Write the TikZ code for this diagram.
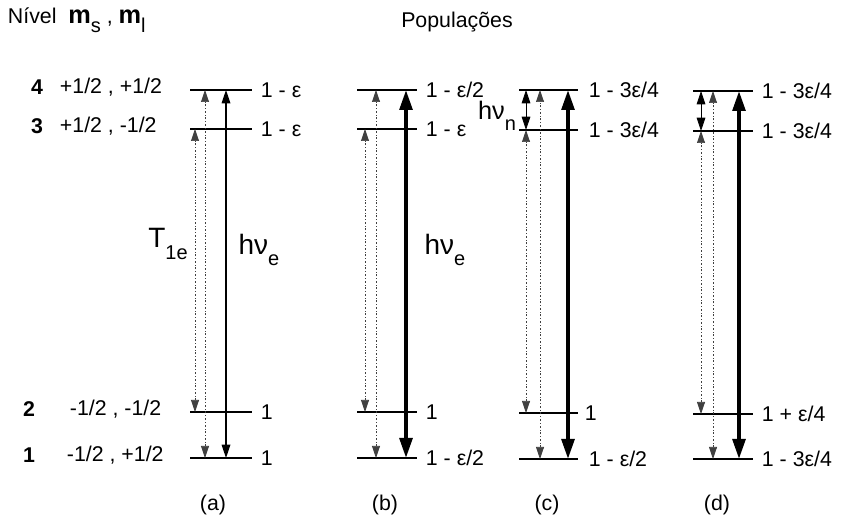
\documentclass[tikz,border=0pt]{standalone}
\usepackage{fontspec}
\setmainfont{Liberation Sans}
\usetikzlibrary{arrows.meta}

\newcommand{\sbs}[1]{\raisebox{-0.8ex}{\fontsize{15}{15}\selectfont #1}}

\tikzset{every picture/.style={line width=0.75pt}}
\tikzset{
  lvl/.style={line width=0.9pt},
  relax/.style={line width=0.5pt, black!75, dash pattern=on 1.5pt off 1.5pt on 0.4pt off 1.5pt,
    {Triangle[length=9pt,width=6pt]}-{Triangle[length=9pt,width=6pt]}},
  pump/.style={line width=0.9pt, {Triangle[length=10pt,width=6.5pt]}-{Triangle[length=10pt,width=6.5pt]}},
  bigpump/.style={line width=2.8pt, {Triangle[length=15pt,width=9.5pt]}-{Triangle[length=15pt,width=9.5pt]}},
  txt/.style={font=\fontsize{16}{18}\selectfont},
  num/.style={font=\fontsize{16}{18}\selectfont\bfseries},
  pop/.style={txt, anchor=west}
}

\begin{document}
\begin{tikzpicture}[x=0.75pt,y=0.75pt,yscale=-1]
\path (0,0) rectangle (842,530); %set diagram size

% level ends, panel (a)
\coordinate (a4) at (190,90);  \coordinate (a4e) at (252,90);
\coordinate (a3) at (190,129); \coordinate (a3e) at (252,129);
\coordinate (a2) at (190,412); \coordinate (a2e) at (252,412);
\coordinate (a1) at (190,458); \coordinate (a1e) at (252,458);
% level ends, panel (b)
\coordinate (b4) at (357,90);  \coordinate (b4e) at (417,90);
\coordinate (b3) at (357,129); \coordinate (b3e) at (417,129);
\coordinate (b2) at (357,412); \coordinate (b2e) at (417,412);
\coordinate (b1) at (357,458); \coordinate (b1e) at (417,458);
% level ends, panel (c)
\coordinate (c4) at (519,90);  \coordinate (c4e) at (578,90);
\coordinate (c3) at (519,130); \coordinate (c3e) at (578,130);
\coordinate (c2) at (519,413); \coordinate (c2e) at (578,413);
\coordinate (c1) at (519,459); \coordinate (c1e) at (578,459);
% level ends, panel (d)
\coordinate (d4) at (693,91);  \coordinate (d4e) at (753,91);
\coordinate (d3) at (693,131); \coordinate (d3e) at (753,131);
\coordinate (d2) at (693,414); \coordinate (d2e) at (753,414);
\coordinate (d1) at (693,459); \coordinate (d1e) at (753,459);

%Levels
\draw [lvl] (a4) -- (a4e) (a3) -- (a3e) (a2) -- (a2e) (a1) -- (a1e) ;
\draw [lvl] (b4) -- (b4e) (b3) -- (b3e) (b2) -- (b2e) (b1) -- (b1e) ;
\draw [lvl] (c4) -- (c4e) (c3) -- (c3e) (c2) -- (c2e) (c1) -- (c1e) ;
\draw [lvl] (d4) -- (d4e) (d3) -- (d3e) (d2) -- (d2e) (d1) -- (d1e) ;

%Arrows (a)
\draw [relax] (195,0 |- a2) -- (195,0 |- a3) ;
\draw [relax] (205,0 |- a1) -- (205,0 |- a4) ;
\draw [pump]  (226,0 |- a1) -- (226,0 |- a4) ;
%Arrows (b)
\draw [relax]   (365,0 |- b2) -- (365,0 |- b3) ;
\draw [relax]   (376,0 |- b1) -- (376,0 |- b4) ;
\draw [bigpump] (406,0 |- b1) -- (406,0 |- b4) ;
%Arrows (c)
\draw [relax]   (526,0 |- c2) -- (526,0 |- c3) ;
\draw [pump, line width=0.6pt] (526,0 |- c3) -- (526,0 |- c4) ;
\draw [relax]   (540,0 |- c1) -- (540,0 |- c4) ;
\draw [bigpump] (568,0 |- c1) -- (568,0 |- c4) ;
%Arrows (d)
\draw [relax]   (701,0 |- d2) -- (701,0 |- d3) ;
\draw [pump, line width=0.6pt] (701,0 |- d3) -- (701,0 |- d4) ;
\draw [relax]   (713,0 |- d1) -- (713,0 |- d4) ;
\draw [bigpump] (739,0 |- d1) -- (739,0 |- d4) ;

% Text Node
\node [txt, anchor=west] (nivel) at (3,20) {Nível\ \ {\fontsize{19}{20}\selectfont\bfseries m}\sbs{s} , {\fontsize{19}{20}\selectfont\bfseries m}\sbs{l}};
% Text Node
\node [txt] (populacoes) at (457,22) {Populações};

% Text Node
\node [num] (n4) at (37,87) {4};
\node [txt, anchor=west] (q4) at (55,87) {+1/2 , +1/2};
\node [num] (n3) at (37,126) {3};
\node [txt, anchor=west] (q3) at (55,126) {+1/2 , -1/2};
\node [num] (n2) at (29,409) {2};
\node [txt, anchor=west] (q2) at (65,409) {-1/2 , -1/2};
\node [num] (n1) at (29,455) {1};
\node [txt, anchor=west] (q1) at (62,455) {-1/2 , +1/2};

% Text Node
\node [pop] (pa4) at (256,90)  {1 - ε};
\node [pop] (pa3) at (256,129) {1 - ε};
\node [pop] (pa2) at (256,412) {1};
\node [pop] (pa1) at (256,458) {1};
% Text Node
\node [pop] (pb4) at (421,90)  {1 - ε/2};
\node [pop] (pb3) at (421,129) {1 - ε};
\node [pop] (pb2) at (421,412) {1};
\node [pop] (pb1) at (421,458) {1 - ε/2};
% Text Node
\node [pop] (pc4) at (584,90)  {1 - 3ε/4};
\node [pop] (pc3) at (584,130) {1 - 3ε/4};
\node [pop] (pc2) at (580,413) {1};
\node [pop] (pc1) at (584,459) {1 - ε/2};
% Text Node
\node [pop] (pd4) at (757,91)  {1 - 3ε/4};
\node [pop] (pd3) at (757,131) {1 - 3ε/4};
\node [pop] (pd2) at (757,414) {1 + ε/4};
\node [pop] (pd1) at (757,459) {1 - 3ε/4};

% Text Node
\node [txt, font=\fontsize{21}{22}\selectfont] (t1e) at (168,244) {T\sbs{1e}};
\node [txt, font=\fontsize{21}{22}\selectfont] (hve) at (259,250) {hν\sbs{e}};
\node [txt, font=\fontsize{21}{22}\selectfont] (hveb) at (445,250) {hν\sbs{e}};
\node [txt, font=\fontsize{19}{20}\selectfont] (hvn) at (497,116) {hν\sbs{n}};

% Text Node
\node [txt] (la) at (213,505) {(a)};
\node [txt] (lb) at (385,505) {(b)};
\node [txt] (lc) at (547,505) {(c)};
\node [txt] (ld) at (717,505) {(d)};

\end{tikzpicture}
\end{document}
